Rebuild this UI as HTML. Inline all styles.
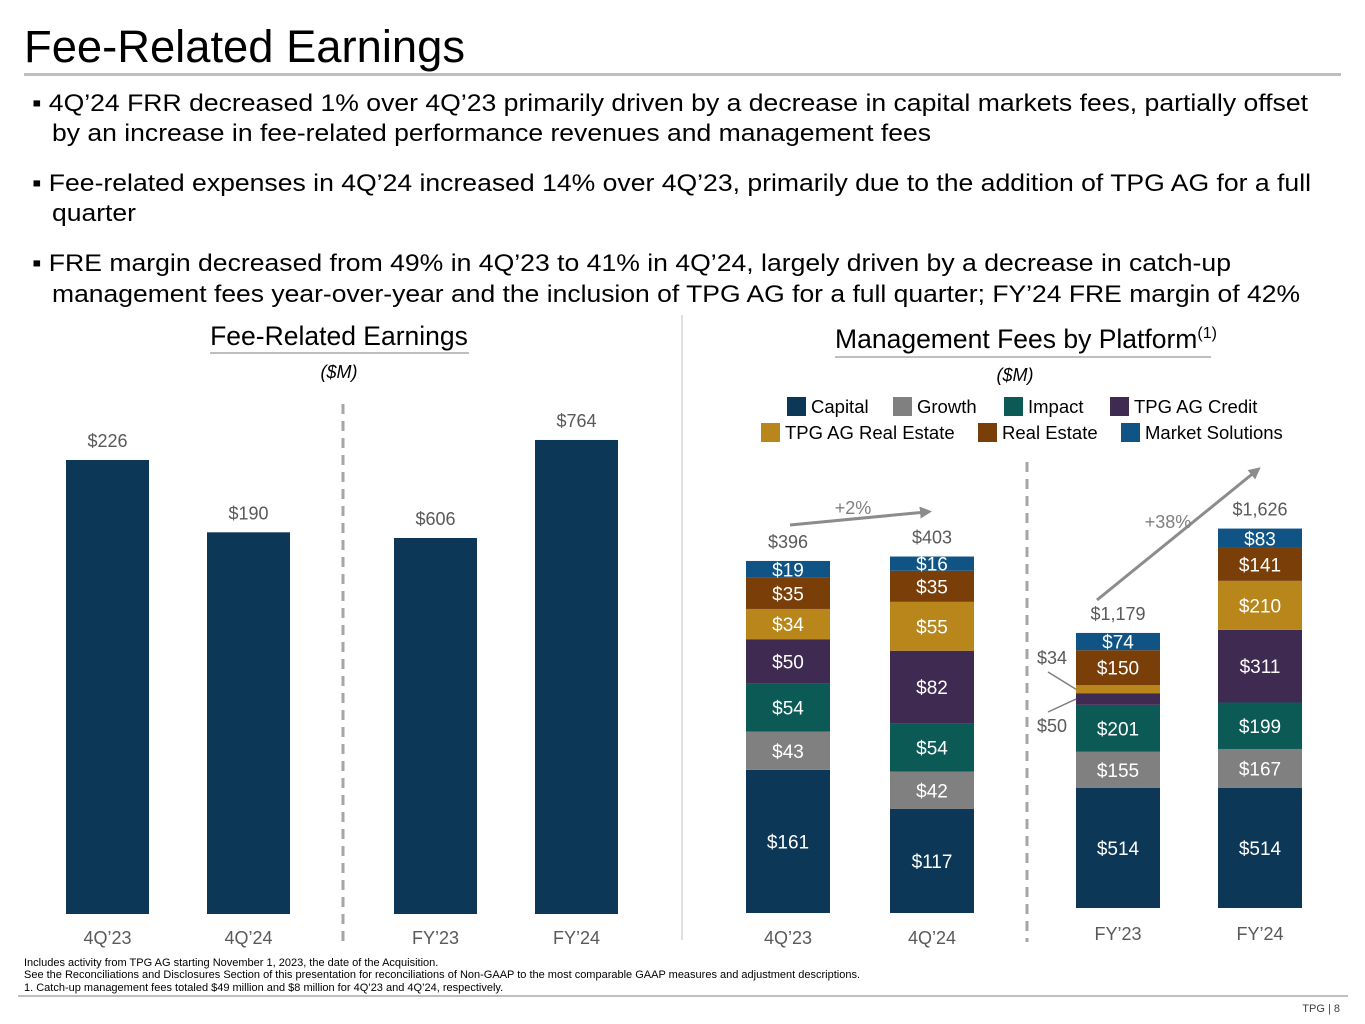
<!DOCTYPE html>
<html><head><meta charset="utf-8"><style>
body{margin:0;background:#fff;width:1365px;height:1024px;overflow:hidden;font-family:"Liberation Sans",Arial,sans-serif}
svg{display:block}
</style></head><body>
<svg id="s" width="1365" height="1024" xmlns="http://www.w3.org/2000/svg" font-family="Liberation Sans, Arial, sans-serif">
<text x="24" y="62" font-size="45" fill="#000" textLength="441" lengthAdjust="spacingAndGlyphs">Fee-Related Earnings</text>
<rect x="24" y="73" width="1317" height="3" fill="#bfbfbf"/>
<g font-size="24.5" fill="#000">
<text x="32" y="111" textLength="1276" lengthAdjust="spacingAndGlyphs">▪ 4Q’24 FRR decreased 1% over 4Q’23 primarily driven by a decrease in capital markets fees, partially offset</text>
<text x="52" y="141" textLength="879" lengthAdjust="spacingAndGlyphs">by an increase in fee-related performance revenues and management fees</text>
<text x="32" y="191" textLength="1279" lengthAdjust="spacingAndGlyphs">▪ Fee-related expenses in 4Q’24 increased 14% over 4Q’23, primarily due to the addition of TPG AG for a full</text>
<text x="52" y="221" textLength="84" lengthAdjust="spacingAndGlyphs">quarter</text>
<text x="32" y="271" textLength="1199" lengthAdjust="spacingAndGlyphs">▪ FRE margin decreased from 49% in 4Q’23 to 41% in 4Q’24, largely driven by a decrease in catch-up</text>
<text x="52" y="302" textLength="1248" lengthAdjust="spacingAndGlyphs">management fees year-over-year and the inclusion of TPG AG for a full quarter; FY’24 FRE margin of 42%</text>
</g>
<text x="339" y="345" font-size="26.5" fill="#000" text-anchor="middle">Fee-Related Earnings</text>
<rect x="210" y="352" width="259" height="2" fill="#bfbfbf"/>
<text x="339" y="378" font-size="18" font-style="italic" fill="#000" text-anchor="middle">($M)</text>
<text x="1026" y="348" font-size="26.5" fill="#000" text-anchor="middle">Management Fees by Platform<tspan font-size="16" dy="-10">(1)</tspan></text>
<rect x="835" y="356" width="376" height="2" fill="#bfbfbf"/>
<text x="1015" y="381" font-size="18" font-style="italic" fill="#000" text-anchor="middle">($M)</text>
<line x1="682" y1="315" x2="682" y2="940" stroke="#e0e0e0" stroke-width="2"/>
<line x1="343" y1="404" x2="343" y2="946" stroke="#a6a6a6" stroke-width="3" stroke-dasharray="10,7"/>
<line x1="1027" y1="462" x2="1027" y2="942" stroke="#a6a6a6" stroke-width="3" stroke-dasharray="10,7"/>
<g id="fre"></g>
<g id="mf"></g>
<g id="leg"></g>
<g font-size="11" fill="#000">
<text x="24" y="966">Includes activity from TPG AG starting November 1, 2023, the date of the Acquisition.</text>
<text x="24" y="978">See the Reconciliations and Disclosures Section of this presentation for reconciliations of Non-GAAP to the most comparable GAAP measures and adjustment descriptions.</text>
<text x="24" y="991">1. Catch-up management fees totaled $49 million and $8 million for 4Q’23 and 4Q’24, respectively.</text>
</g>
<rect x="18" y="995" width="1330" height="2" fill="#bfbfbf"/>
<text x="1340" y="1012" font-size="11" fill="#404040" text-anchor="end">TPG | 8</text>
</svg>
<script>
const NS="http://www.w3.org/2000/svg";
function mk(p,t,a){const e=document.createElementNS(NS,t);for(const k in a)e.setAttribute(k,a[k]);p.appendChild(e);return e;}
// FRE chart data
const freCats=["4Q’23","4Q’24","FY’23","FY’24"];
const freVals=[226,190,606,764];
const freLabels=["$226","$190","$606","$764"];
// Mgmt fees data
const mfCats=["4Q’23","4Q’24","FY’23","FY’24"];
const mfSeries=["Capital","Growth","Impact","TPG AG Credit","TPG AG Real Estate","Real Estate","Market Solutions"];
const mfCapital=[161,117,514,514];
const mfGrowth=[43,42,155,167];
const mfImpact=[54,54,201,199];
const mfAGCredit=[50,82,50,311];
const mfAGRE=[34,55,34,210];
const mfRE=[35,35,150,141];
const mfMS=[19,16,74,83];
const mfTotals=[396,403,1179,1626];
const mfTotalLabels=["$396","$403","$1,179","$1,626"];
const colors=["#0c3756","#808080","#0b5a55","#3f2a52","#b8861b","#7a3e08","#0f5485"];

const fre=document.getElementById('fre');
const freX=[66,207,394,535], freW=83, freBase=914;
function freY(i,v){const s=i<2?454/226:376/606;return freBase-v*s;}
freVals.forEach((v,i)=>{
  const y=freY(i,v);
  const r=mk(fre,'rect',{x:freX[i],y:y,width:freW,height:freBase-y,fill:"#0c3756"});
  
  
  const t=mk(fre,'text',{x:freX[i]+freW/2,y:y-13,'font-size':18,fill:'#595959','text-anchor':'middle'});t.textContent=freLabels[i];
  
  
  const c=mk(fre,'text',{x:freX[i]+freW/2,y:944,'font-size':18,fill:'#595959','text-anchor':'middle'});c.textContent=freCats[i];
  
  
});

const mf=document.getElementById('mf');
const mfX=[746,890,1076,1218], mfW=84, mfBase=[913,913,908,908];
function mfScale(i){return i<2?0.889:0.2335;}
const segs=[mfCapital,mfGrowth,mfImpact,mfAGCredit,mfAGRE,mfRE,mfMS];
for(let i=0;i<4;i++){
  let y=mfBase[i];
  segs.forEach((arr,k)=>{
    const h=arr[i]*mfScale(i);
    const r=mk(mf,'rect',{x:mfX[i],y:y-h,width:mfW,height:h,fill:colors[k]});
    
    
    const ext=(i===2&&(k===3||k===4));
    if(!ext){
      const t=mk(mf,'text',{x:mfX[i]+mfW/2,y:y-h/2+7,'font-size':19,fill:'#fff','text-anchor':'middle'});
      t.textContent='$'+arr[i];
      
      
    } else {
      const cy=y-h/2;
      const ly=k===4?664:732;
      const t=mk(mf,'text',{x:1052,y:ly,'font-size':18,fill:'#595959','text-anchor':'middle'});
      t.textContent='$'+arr[i];
      
      
      const l=mk(mf,'line',{x1:1048,y1:k===4?672:712,x2:mfX[i],y2:cy,stroke:'#7f7f7f','stroke-width':1.5});
      
      
    }
    y-=h;
  });
  const t=mk(mf,'text',{x:mfX[i]+mfW/2,y:y-13,'font-size':18,fill:'#595959','text-anchor':'middle'});t.textContent=mfTotalLabels[i];
  
  
  const c=mk(mf,'text',{x:mfX[i]+mfW/2,y:i<2?944:940,'font-size':18,fill:'#595959','text-anchor':'middle'});c.textContent=mfCats[i];
  
  
}
const defs=mk(document.getElementById('s'),'defs',{});
const mkr=mk(defs,'marker',{id:'ah',markerWidth:4,markerHeight:4,refX:2,refY:2,orient:'auto'});
mk(mkr,'path',{d:'M0,0 L4,2 L0,4 Z',fill:'#8c8c8c'});
const a1=mk(mf,'line',{x1:790,y1:525,x2:926,y2:512,stroke:'#8c8c8c','stroke-width':3,'marker-end':'url(#ah)'});


const a2=mk(mf,'line',{x1:1097,y1:600,x2:1256,y2:471,stroke:'#8c8c8c','stroke-width':3,'marker-end':'url(#ah)'});


const g1=mk(mf,'text',{x:853,y:514,'font-size':18,fill:'#7f7f7f','text-anchor':'middle'});g1.textContent='+2%';


const g2=mk(mf,'text',{x:1168,y:528,'font-size':18,fill:'#7f7f7f','text-anchor':'middle'});g2.textContent='+38%';



const leg=document.getElementById('leg');
const legPos=[[787,397],[893,397],[1004,397],[1110,397],[761,423],[978,423],[1121,423]];
mfSeries.forEach((n,k)=>{
  const [x,y]=legPos[k];
  const r=mk(leg,'rect',{x:x,y:y,width:19,height:19,fill:colors[k]});
  
  
  const t=mk(leg,'text',{x:x+24,y:y+16,'font-size':18.5,fill:'#000'});t.textContent=n;
  
  
});
</script>
</body></html>
